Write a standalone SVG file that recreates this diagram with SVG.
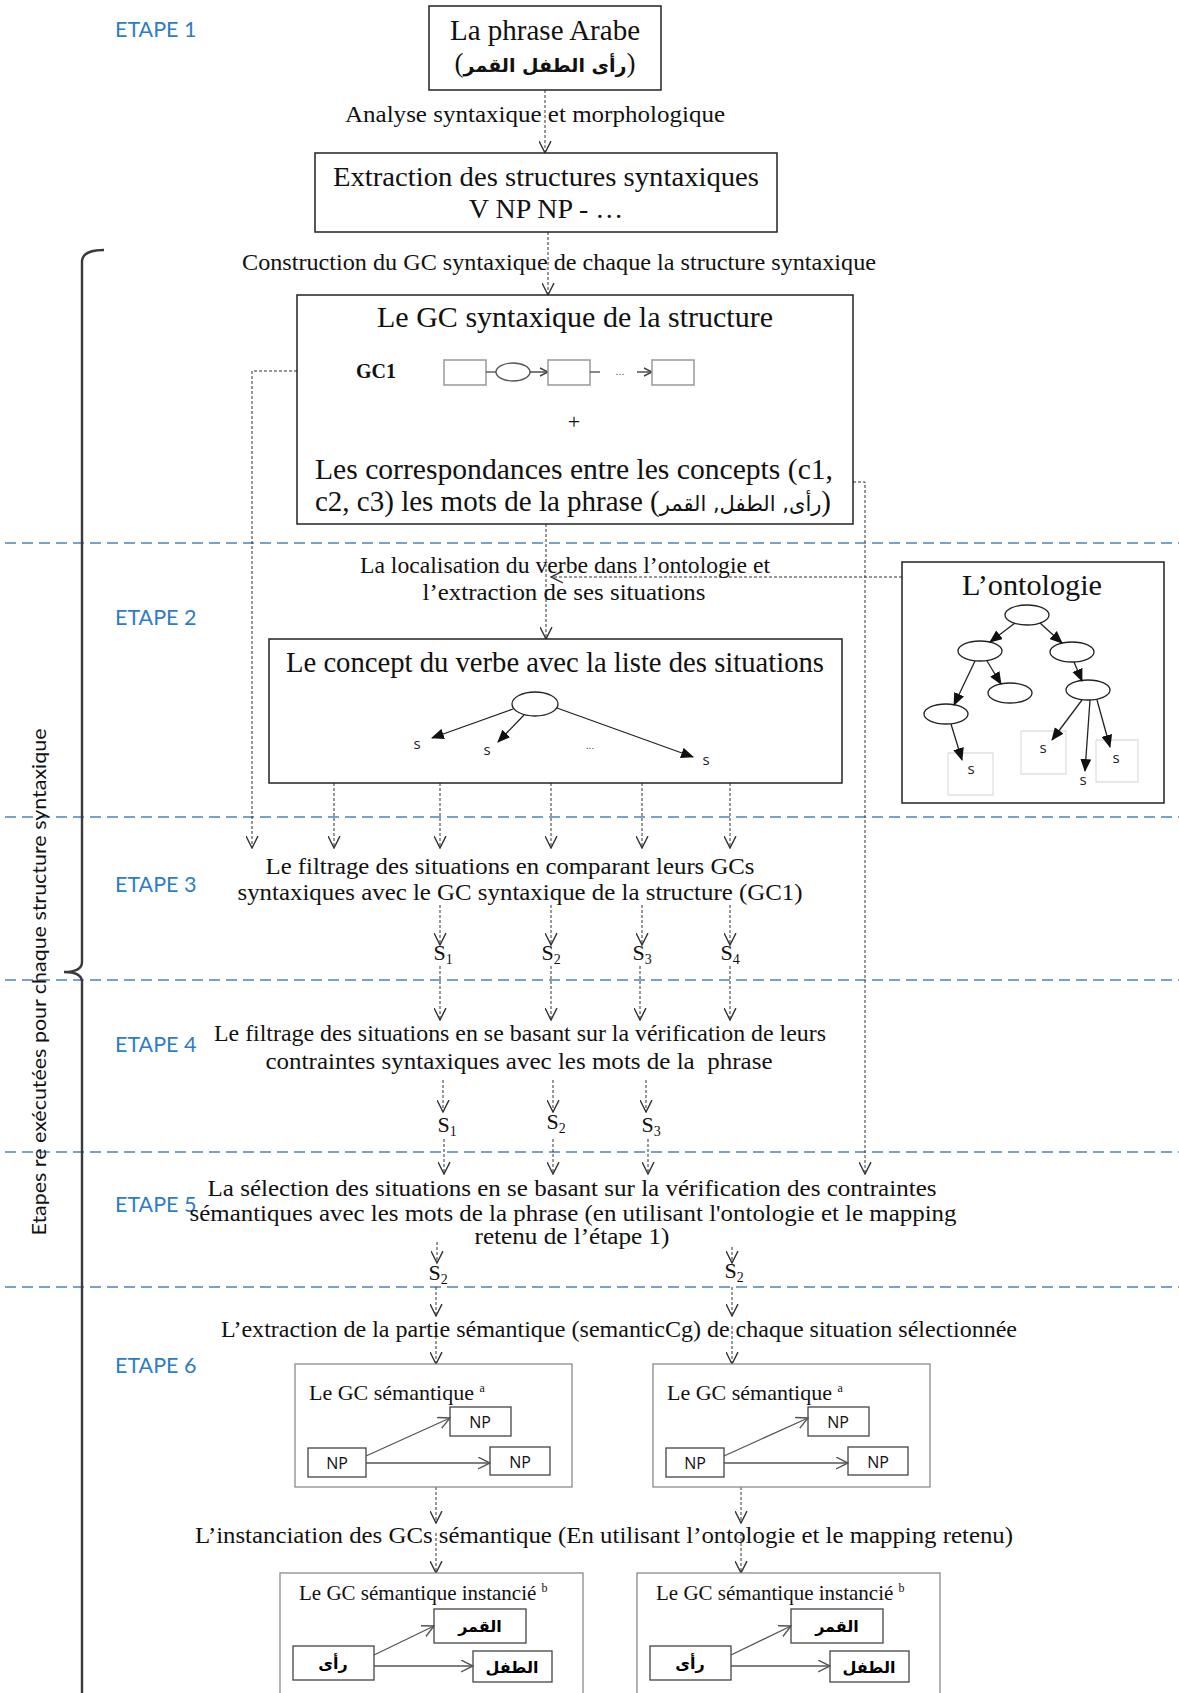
<svg xmlns="http://www.w3.org/2000/svg" width="1179" height="1693" viewBox="0 0 1179 1693">
<defs>
<style>
.t{font-family:"Liberation Serif","Times New Roman",serif;fill:#111}
.ar{font-family:"DejaVu Sans",sans-serif;font-weight:bold}
.arn{font-family:"DejaVu Sans",sans-serif}
.step{font-family:Lato,"Liberation Sans",sans-serif;fill:#2e7dc4;font-size:21.5px}
.box{fill:#fff;stroke:#222;stroke-width:1.5}
.gbox{fill:#fff;stroke:#8a8a8a;stroke-width:1.3}
.ibox{fill:#fff;stroke:#444;stroke-width:1.3}
.sm{fill:#fff;stroke:#999;stroke-width:1.5}
.dash{stroke:#333;stroke-width:1;stroke-dasharray:3 2;fill:none}
.arr{marker-end:url(#open)}
.sep{stroke:#4f81bd;stroke-width:1.5;stroke-dasharray:11 6}
.solid{stroke:#222;stroke-width:1.3;fill:none}
.fa{marker-end:url(#fill)}
.ga{stroke:#555;stroke-width:1.3;fill:none;marker-end:url(#openg)}
.np{font-family:"Open Sans","Liberation Sans",sans-serif;font-size:16px;fill:#111}
.s{font-family:"Open Sans","Liberation Sans",sans-serif;font-size:15px;fill:#222}
</style>
<marker id="open" viewBox="0 0 12 12" refX="11" refY="6" markerWidth="13" markerHeight="13" markerUnits="userSpaceOnUse" orient="auto"><path d="M0,0.5 L11,6 L0,11.5" fill="none" stroke="#333" stroke-width="1.3"/></marker>
<marker id="openg" viewBox="0 0 12 12" refX="11" refY="6" markerWidth="13" markerHeight="13" markerUnits="userSpaceOnUse" orient="auto"><path d="M0,0.5 L11,6 L0,11.5" fill="none" stroke="#555" stroke-width="1.3"/></marker>
<marker id="fill" viewBox="0 0 12 10" refX="11" refY="5" markerWidth="13" markerHeight="11" markerUnits="userSpaceOnUse" orient="auto"><path d="M0,0 L12,5 L0,10 z" fill="#111"/></marker>
<marker id="small" viewBox="0 0 10 10" refX="9" refY="5" markerWidth="10" markerHeight="10" markerUnits="userSpaceOnUse" orient="auto"><path d="M1,1 L9,5 L1,9" fill="none" stroke="#444" stroke-width="1.4"/></marker>
</defs>

<g id="separators">
<line class="sep" x1="5" y1="543" x2="1179" y2="543"/>
<line class="sep" x1="5" y1="817" x2="1179" y2="817"/>
<line class="sep" x1="5" y1="980" x2="1179" y2="980"/>
<line class="sep" x1="5" y1="1152" x2="1179" y2="1152"/>
<line class="sep" x1="5" y1="1287" x2="1179" y2="1287"/>
</g>

<g id="steps">
<text class="step" x="115" y="37">ETAPE 1</text>
<text class="step" x="115" y="625">ETAPE 2</text>
<text class="step" x="115" y="892">ETAPE 3</text>
<text class="step" x="115" y="1052">ETAPE 4</text>
<text class="step" x="115" y="1212">ETAPE 5</text>
<text class="step" x="115" y="1373">ETAPE 6</text>
</g>

<g id="bracket">
<path d="M104,250 Q82,250 82,262 L82,962 Q82,972 64,972 Q82,972 82,982 L82,1693" fill="none" stroke="#3a3a3a" stroke-width="2.4"/>
<text transform="translate(46,982) rotate(-90)" text-anchor="middle" font-family="Lato,'Liberation Sans',sans-serif" font-size="19" fill="#111" textLength="507" lengthAdjust="spacingAndGlyphs">Etapes re exécutées pour chaque structure syntaxique</text>
</g>

<g id="connectors">
<line class="dash arr" x1="545" y1="90" x2="545" y2="153"/>
<line class="dash arr" x1="548" y1="232" x2="548" y2="295"/>
<line class="dash arr" x1="546" y1="524" x2="546" y2="639"/>
<line class="dash arr" x1="902" y1="577" x2="551" y2="577"/>
<polyline class="dash arr" points="297,371 252,371 252,848"/>
<polyline class="dash arr" points="853,482 865,482 865,1174"/>
<line class="dash arr" x1="334" y1="783" x2="334" y2="848"/>
<line class="dash arr" x1="440" y1="783" x2="440" y2="848"/>
<line class="dash arr" x1="551" y1="783" x2="551" y2="848"/>
<line class="dash arr" x1="642" y1="783" x2="642" y2="848"/>
<line class="dash arr" x1="730" y1="783" x2="730" y2="848"/>
<line class="dash arr" x1="440" y1="905" x2="440" y2="945"/>
<line class="dash arr" x1="551" y1="905" x2="551" y2="945"/>
<line class="dash arr" x1="642" y1="905" x2="642" y2="945"/>
<line class="dash arr" x1="730" y1="905" x2="730" y2="945"/>
<line class="dash arr" x1="440" y1="966" x2="440" y2="1020"/>
<line class="dash arr" x1="551" y1="966" x2="551" y2="1020"/>
<line class="dash arr" x1="640" y1="966" x2="640" y2="1020"/>
<line class="dash arr" x1="730" y1="966" x2="730" y2="1020"/>
<line class="dash arr" x1="443" y1="1080" x2="443" y2="1112"/>
<line class="dash arr" x1="553" y1="1080" x2="553" y2="1112"/>
<line class="dash arr" x1="646" y1="1080" x2="646" y2="1112"/>
<line class="dash arr" x1="444" y1="1139" x2="444" y2="1174"/>
<line class="dash arr" x1="553" y1="1139" x2="553" y2="1174"/>
<line class="dash arr" x1="648" y1="1139" x2="648" y2="1174"/>
<line class="dash arr" x1="437" y1="1242" x2="437" y2="1263"/>
<line class="dash arr" x1="732" y1="1247" x2="732" y2="1263"/>
<line class="dash arr" x1="436" y1="1287" x2="436" y2="1316"/>
<line class="dash arr" x1="732" y1="1287" x2="732" y2="1316"/>
<line class="dash arr" x1="436" y1="1326" x2="436" y2="1364"/>
<line class="dash arr" x1="732" y1="1326" x2="732" y2="1364"/>
<line class="dash arr" x1="436" y1="1487" x2="436" y2="1523"/>
<line class="dash arr" x1="741" y1="1487" x2="741" y2="1523"/>
<line class="dash arr" x1="436" y1="1533" x2="436" y2="1573"/>
<line class="dash arr" x1="741" y1="1533" x2="741" y2="1573"/>
</g>

<g id="labels" class="t" font-size="24" text-anchor="middle">
<text x="535" y="122" textLength="380" lengthAdjust="spacingAndGlyphs">Analyse syntaxique et morphologique</text>
<text x="559" y="270" textLength="634" lengthAdjust="spacingAndGlyphs">Construction du GC syntaxique de chaque la structure syntaxique</text>
<text x="565" y="573" textLength="410" lengthAdjust="spacingAndGlyphs">La localisation du verbe dans l’ontologie et</text>
<text x="564" y="600" textLength="283" lengthAdjust="spacingAndGlyphs">l’extraction de ses situations</text>
<text x="510" y="874" textLength="489" lengthAdjust="spacingAndGlyphs">Le filtrage des situations en comparant leurs GCs</text>
<text x="520" y="900" textLength="565" lengthAdjust="spacingAndGlyphs">syntaxiques avec le GC syntaxique de la structure (GC1)</text>
<text x="520" y="1041" textLength="612" lengthAdjust="spacingAndGlyphs">Le filtrage des situations en se basant sur la vérification de leurs</text>
<text x="519" y="1069" textLength="507" lengthAdjust="spacingAndGlyphs">contraintes syntaxiques avec les mots de la&#160; phrase</text>
<text x="572" y="1196" textLength="729" lengthAdjust="spacingAndGlyphs">La sélection des situations en se basant sur la vérification des contraintes</text>
<text x="573" y="1221" textLength="767" lengthAdjust="spacingAndGlyphs">sémantiques avec les mots de la phrase (en utilisant l'ontologie et le mapping</text>
<text x="572" y="1244" textLength="195" lengthAdjust="spacingAndGlyphs">retenu de l’étape 1)</text>
<text x="619" y="1337" textLength="796" lengthAdjust="spacingAndGlyphs">L’extraction de la partie sémantique (semanticCg) de chaque situation sélectionnée</text>
<text x="604" y="1543" textLength="818" lengthAdjust="spacingAndGlyphs">L’instanciation des GCs sémantique (En utilisant l’ontologie et le mapping retenu)</text>
</g>

<g id="slabels" class="t" font-size="22" text-anchor="middle">
<text x="443" y="960">S<tspan font-size="14" dy="4">1</tspan></text>
<text x="551" y="960">S<tspan font-size="14" dy="4">2</tspan></text>
<text x="642" y="960">S<tspan font-size="14" dy="4">3</tspan></text>
<text x="730" y="960">S<tspan font-size="14" dy="4">4</tspan></text>
<text x="447" y="1132">S<tspan font-size="14" dy="4">1</tspan></text>
<text x="556" y="1129">S<tspan font-size="14" dy="4">2</tspan></text>
<text x="651" y="1132">S<tspan font-size="14" dy="4">3</tspan></text>
<text x="438" y="1280">S<tspan font-size="14" dy="4">2</tspan></text>
<text x="734" y="1278">S<tspan font-size="14" dy="4">2</tspan></text>
</g>

<g id="node-phrase">
<rect class="box" x="429" y="6" width="232" height="84"/>
<text class="t" x="545" y="40" font-size="29" text-anchor="middle">La phrase Arabe</text>
<text class="t" x="545" y="72" font-size="27" text-anchor="middle">(<tspan class="ar" font-size="19">رأى الطفل القمر</tspan>)</text>
</g>

<g id="node-extraction">
<rect class="box" x="315" y="153" width="462" height="79"/>
<text class="t" x="546" y="186" font-size="28" text-anchor="middle" textLength="426" lengthAdjust="spacingAndGlyphs">Extraction des structures syntaxiques</text>
<text class="t" x="546" y="218" font-size="28" text-anchor="middle">V NP NP - …</text>
</g>

<g id="node-gc-syntaxique">
<rect class="box" x="297" y="295" width="556" height="229"/>
<text class="t" x="575" y="327" font-size="29" text-anchor="middle" textLength="396" lengthAdjust="spacingAndGlyphs">Le GC syntaxique de la structure</text>
<text class="t" x="356" y="378" font-size="20" font-weight="bold">GC1</text>
<rect class="sm" x="444" y="360" width="42" height="25"/>
<line x1="486" y1="372" x2="496" y2="372" stroke="#555" stroke-width="1.4"/>
<ellipse cx="513" cy="372" rx="17" ry="9" fill="#fff" stroke="#555" stroke-width="1.4"/>
<line x1="530" y1="372" x2="548" y2="372" stroke="#444" stroke-width="1.4" marker-end="url(#small)"/>
<rect class="sm" x="548" y="360" width="42" height="25"/>
<line x1="590" y1="372" x2="600" y2="372" stroke="#555" stroke-width="1.4"/>
<text x="620" y="375" font-family="Liberation Sans,sans-serif" font-size="11" fill="#555" text-anchor="middle">...</text>
<line x1="637" y1="372" x2="652" y2="372" stroke="#444" stroke-width="1.4" marker-end="url(#small)"/>
<rect class="sm" x="652" y="360" width="42" height="25"/>
<text class="t" x="574" y="429" font-size="22" text-anchor="middle">+</text>
<text class="t" x="574" y="479" font-size="29" text-anchor="middle" textLength="518" lengthAdjust="spacingAndGlyphs">Les correspondances entre les concepts (c1,</text>
<text class="t" x="315" y="511" font-size="29">c2, c3) les mots de la phrase (<tspan class="arn" font-size="21">رأى, الطفل, القمر</tspan>)</text>
</g>

<g id="node-concept-verbe">
<rect class="box" x="269" y="639" width="573" height="144"/>
<text class="t" x="555" y="672" font-size="29" text-anchor="middle" textLength="538" lengthAdjust="spacingAndGlyphs">Le concept du verbe avec la liste des situations</text>
<ellipse cx="535" cy="704" rx="23" ry="12" fill="#fff" stroke="#222" stroke-width="1.3"/>
<line class="solid fa" x1="513" y1="709" x2="432" y2="738"/>
<line class="solid fa" x1="524" y1="715" x2="498" y2="742"/>
<line class="solid fa" x1="557" y1="708" x2="693" y2="757"/>
<text class="s" x="417" y="749" text-anchor="middle">s</text>
<text class="s" x="487" y="755" text-anchor="middle">s</text>
<text x="590" y="749" font-family="Liberation Sans,sans-serif" font-size="10" fill="#444" text-anchor="middle">...</text>
<text class="s" x="706" y="765" text-anchor="middle">s</text>
</g>

<g id="node-ontologie">
<rect class="box" x="902" y="562" width="262" height="241"/>
<text class="t" x="1032" y="595" font-size="29" text-anchor="middle" textLength="140" lengthAdjust="spacingAndGlyphs">L’ontologie</text>
<g fill="none" stroke="#e0e0e0" stroke-width="1.3">
<polyline points="948,753 993,753 993,795 948,795 948,753"/>
<polyline points="1021,731 1066,731 1066,774 1021,774 1021,731"/>
<polyline points="1096,740 1138,740 1138,782 1096,782 1096,740"/>
</g>
<g fill="#fff" stroke="#222" stroke-width="1.3">
<ellipse cx="1027" cy="615" rx="22" ry="10"/>
<ellipse cx="980" cy="651" rx="22" ry="10"/>
<ellipse cx="1072" cy="652" rx="22" ry="10"/>
<ellipse cx="946" cy="714" rx="22" ry="10"/>
<ellipse cx="1010" cy="693" rx="22" ry="10"/>
<ellipse cx="1088" cy="690" rx="22" ry="10"/>
</g>
<line class="solid fa" x1="1015" y1="623" x2="990" y2="642"/>
<line class="solid fa" x1="1040" y1="623" x2="1062" y2="643"/>
<line class="solid fa" x1="975" y1="661" x2="954" y2="705"/>
<line class="solid fa" x1="987" y1="661" x2="1001" y2="684"/>
<line class="solid fa" x1="1074" y1="662" x2="1082" y2="681"/>
<line class="solid fa" x1="951" y1="724" x2="962" y2="760"/>
<line class="solid fa" x1="1082" y1="700" x2="1052" y2="740"/>
<line class="solid fa" x1="1090" y1="700" x2="1085" y2="771"/>
<line class="solid fa" x1="1097" y1="700" x2="1110" y2="747"/>
<text class="s" x="971" y="774" text-anchor="middle">s</text>
<text class="s" x="1043" y="753" text-anchor="middle">s</text>
<text class="s" x="1083" y="785" text-anchor="middle">s</text>
<text class="s" x="1116" y="763" text-anchor="middle">s</text>
</g>

<g id="node-gc-semantique-1">
<rect class="gbox" x="295" y="1364" width="277" height="123"/>
<text class="t" x="309" y="1400" font-size="22">Le GC sémantique <tspan font-size="12" dy="-8">a</tspan></text>
<rect class="ibox" x="450" y="1407" width="61" height="29"/>
<rect class="ibox" x="308" y="1448" width="58" height="29"/>
<rect class="ibox" x="490" y="1447" width="60" height="28"/>
<text class="np" x="480" y="1428" text-anchor="middle">NP</text>
<text class="np" x="337" y="1469" text-anchor="middle">NP</text>
<text class="np" x="520" y="1468" text-anchor="middle">NP</text>
<line class="ga" x1="366" y1="1456" x2="450" y2="1418"/>
<line class="ga" x1="366" y1="1463" x2="490" y2="1463"/>
</g>

<g id="node-gc-semantique-2">
<rect class="gbox" x="653" y="1364" width="277" height="123"/>
<text class="t" x="667" y="1400" font-size="22">Le GC sémantique <tspan font-size="12" dy="-8">a</tspan></text>
<rect class="ibox" x="808" y="1407" width="61" height="29"/>
<rect class="ibox" x="666" y="1448" width="58" height="29"/>
<rect class="ibox" x="848" y="1447" width="60" height="28"/>
<text class="np" x="838" y="1428" text-anchor="middle">NP</text>
<text class="np" x="695" y="1469" text-anchor="middle">NP</text>
<text class="np" x="878" y="1468" text-anchor="middle">NP</text>
<line class="ga" x1="724" y1="1456" x2="808" y2="1418"/>
<line class="ga" x1="724" y1="1463" x2="848" y2="1463"/>
</g>

<g id="node-gc-instancie-1">
<rect class="gbox" x="280" y="1573" width="303" height="140"/>
<text class="t" x="299" y="1600" font-size="21">Le GC sémantique instancié <tspan font-size="12" dy="-8">b</tspan></text>
<rect class="ibox" x="434" y="1609" width="92" height="34"/>
<rect class="ibox" x="293" y="1646" width="81" height="34"/>
<rect class="ibox" x="473" y="1651" width="79" height="31"/>
<text class="ar" x="480" y="1632" font-size="16" text-anchor="middle">القمر</text>
<text class="ar" x="333" y="1669" font-size="16" text-anchor="middle">رأى</text>
<text class="ar" x="512" y="1673" font-size="16" text-anchor="middle">الطفل</text>
<line class="ga" x1="374" y1="1655" x2="434" y2="1626"/>
<line class="ga" x1="374" y1="1666" x2="473" y2="1666"/>
</g>

<g id="node-gc-instancie-2">
<rect class="gbox" x="637" y="1573" width="303" height="140"/>
<text class="t" x="656" y="1600" font-size="21">Le GC sémantique instancié <tspan font-size="12" dy="-8">b</tspan></text>
<rect class="ibox" x="791" y="1609" width="92" height="34"/>
<rect class="ibox" x="650" y="1646" width="81" height="34"/>
<rect class="ibox" x="830" y="1651" width="79" height="31"/>
<text class="ar" x="837" y="1632" font-size="16" text-anchor="middle">القمر</text>
<text class="ar" x="690" y="1669" font-size="16" text-anchor="middle">رأى</text>
<text class="ar" x="869" y="1673" font-size="16" text-anchor="middle">الطفل</text>
<line class="ga" x1="731" y1="1655" x2="791" y2="1626"/>
<line class="ga" x1="731" y1="1666" x2="830" y2="1666"/>
</g>
</svg>
